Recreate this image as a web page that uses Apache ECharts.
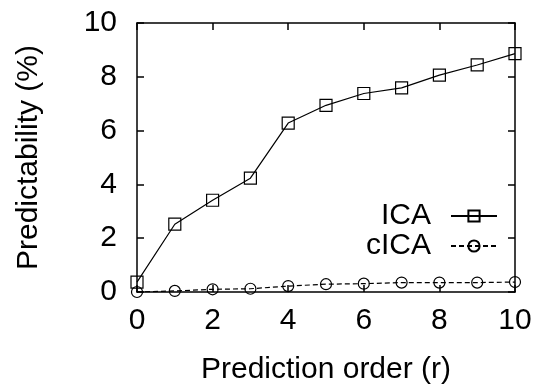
<!DOCTYPE html>
<html><head><meta charset="utf-8">
<script src="https://cdn.jsdelivr.net/npm/echarts@6/dist/echarts.min.js"></script>
<style>html,body{margin:0;padding:0;background:#fff}#c{width:538px;height:392px}</style>
</head><body><div id="c"></div>
<script>
var orders = [0,1,2,3,4,5,6,7,8,9,10];
var icaValues = [0.37,2.52,3.41,4.23,6.28,6.94,7.38,7.59,8.06,8.44,8.86];
var cicaValues = [0.0,0.04,0.10,0.12,0.22,0.29,0.31,0.35,0.35,0.35,0.37];
var xTicks = [0,2,4,6,8,10];
var yTicks = [0,2,4,6,8,10];
var seriesNames = ['ICA','cICA'];
var xTitle = 'Prediction order (r)';
var yTitle = 'Predictability (%)';

var FONT = '"Liberation Sans", Arial, Helvetica, sans-serif';
function pairs(vals){ return orders.map(function(x,i){ return [x, vals[i]]; }); }
var chart = echarts.init(document.getElementById('c'), null, {renderer:'canvas'});
var axisLine = {show:true, onZero:false, lineStyle:{color:'#000', width:1.5}};
var tick = {show:true, inside:true, length:7, lineStyle:{color:'#000', width:1.5}};
var lbl = {color:'#000', fontFamily:FONT, fontSize:30};
chart.setOption({
  animation:false,
  backgroundColor:'#fff',
  grid:{left:137, right:23, top:23, bottom:100, containLabel:false},
  legend:{
    data:seriesNames, orient:'vertical', align:'right',
    right:35, top:196, itemWidth:46, itemHeight:14, itemGap:0,
    textStyle:{color:'#000', fontFamily:FONT, fontSize:30, padding:[0,15,0,0]}
  },
  xAxis:[{
    type:'value', min:xTicks[0], max:xTicks[xTicks.length-1], interval:2,
    axisLine:axisLine, axisTick:tick, splitLine:{show:false},
    axisLabel:Object.assign({margin:14}, lbl),
    name:xTitle, nameLocation:'middle', nameGap:63,
    nameTextStyle:{color:'#000', fontFamily:FONT, fontSize:30}
  },{
    type:'value', position:'top', min:0, max:10, interval:2,
    axisLine:axisLine, axisTick:tick, axisLabel:{show:false}, splitLine:{show:false}
  }],
  yAxis:[{
    type:'value', min:yTicks[0], max:yTicks[yTicks.length-1], interval:2,
    axisLine:axisLine, axisTick:tick, splitLine:{show:false},
    axisLabel:Object.assign({margin:20}, lbl),
    name:yTitle, nameLocation:'middle', nameGap:93,
    nameTextStyle:{color:'#000', fontFamily:FONT, fontSize:30}
  },{
    type:'value', position:'right', min:0, max:10, interval:2,
    axisLine:axisLine, axisTick:tick, axisLabel:{show:false}, splitLine:{show:false}
  }],
  series:[{
    name:seriesNames[0], type:'line', data:pairs(icaValues),
    symbol:'rect', symbolSize:12,
    itemStyle:{color:'rgba(0,0,0,0)', borderColor:'#000', borderWidth:1.2},
    lineStyle:{color:'#000', width:1.2, type:'solid'}
  },{
    name:seriesNames[1], type:'line', data:pairs(cicaValues),
    symbol:'circle', symbolSize:11,
    itemStyle:{color:'rgba(0,0,0,0)', borderColor:'#000', borderWidth:1.2},
    lineStyle:{color:'#000', width:1.2, type:[5,3]}
  }]
});
</script></body></html>
